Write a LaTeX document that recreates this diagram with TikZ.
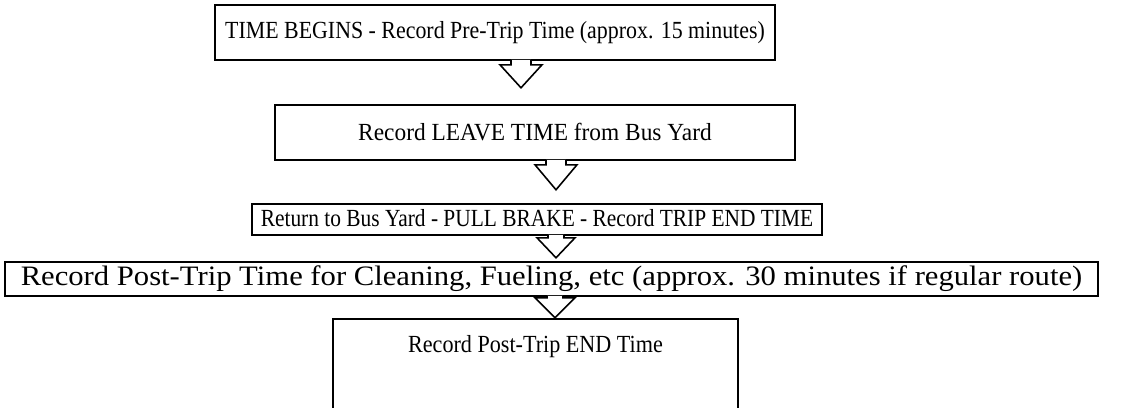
\documentclass[tikz,border=0pt]{standalone}
\usepackage{fontspec}
\setmainfont{Liberation Serif}
\usetikzlibrary{calc}
\newcommand\pxu{0.02cm}
\tikzset{
  stepbox/.style={draw=black,line width=.9pt,fill=white,inner sep=0pt,align=center,
                  font=\fontsize{14}{16}\selectfont},
  blockar/.style={draw=black,line width=.9pt,fill=white,line join=miter},
}
% hollow block arrow hanging from a box: name, box, x, stem/2, head/2, stem len, head len
\newcommand\flowarr[7]{%
  \coordinate (#1) at ($(#2.south -| #3,0)+(0,-1)$);
  \filldraw[blockar] (#1) ++(-#4,0) -- ++(0,#6) -- ++({#4-#5},0) -- ++(#5,#7)
    -- ++(#5,-#7) -- ++({#4-#5},0) -- ++(0,-#6);
}

\begin{document}
\begin{tikzpicture}[x=0.02cm,y=-0.02cm]
  \useasboundingbox (0,0) rectangle (1133,407);
  \node[stepbox,minimum width=560*\pxu,minimum height=55*\pxu]
    (begin) at (495,32.5) {\scalebox{.89}[1]{TIME BEGINS - Record Pre-Trip Time (approx. 15 minutes)}};
  \node[stepbox,minimum width=520*\pxu,minimum height=55*\pxu]
    (leave) at (535,132.5) {\scalebox{.95}[1]{Record LEAVE TIME from Bus Yard}};
  \node[stepbox,minimum width=570*\pxu,minimum height=31*\pxu,text height=10.5pt,text depth=3pt]
    (return) at (537,219.5) {\scalebox{.87}[1]{Return to Bus Yard - PULL BRAKE - Record TRIP END TIME}};
  \node[stepbox,minimum width=1093*\pxu,minimum height=34*\pxu,font=\fontsize{16}{18}\selectfont]
    (post) at (551.5,279) {\scalebox{1.09}[1]{Record Post-Trip Time for Cleaning, Fueling, etc (approx. 30 minutes if regular route)}};
  \node[stepbox,anchor=north,minimum width=405*\pxu,text height=19pt,text depth=60pt]
    (end) at (535.5,318) {\scalebox{.9}[1]{Record Post-Trip END Time}};
  \flowarr{a1}{begin}{521}{10}{21}{5}{23}
  \flowarr{a2}{leave}{556}{10}{21}{5}{25}
  \flowarr{a3}{return}{556}{8}{19}{3}{20}
  \flowarr{a4}{post}{555}{8}{20}{2}{20}
\end{tikzpicture}
\end{document}
